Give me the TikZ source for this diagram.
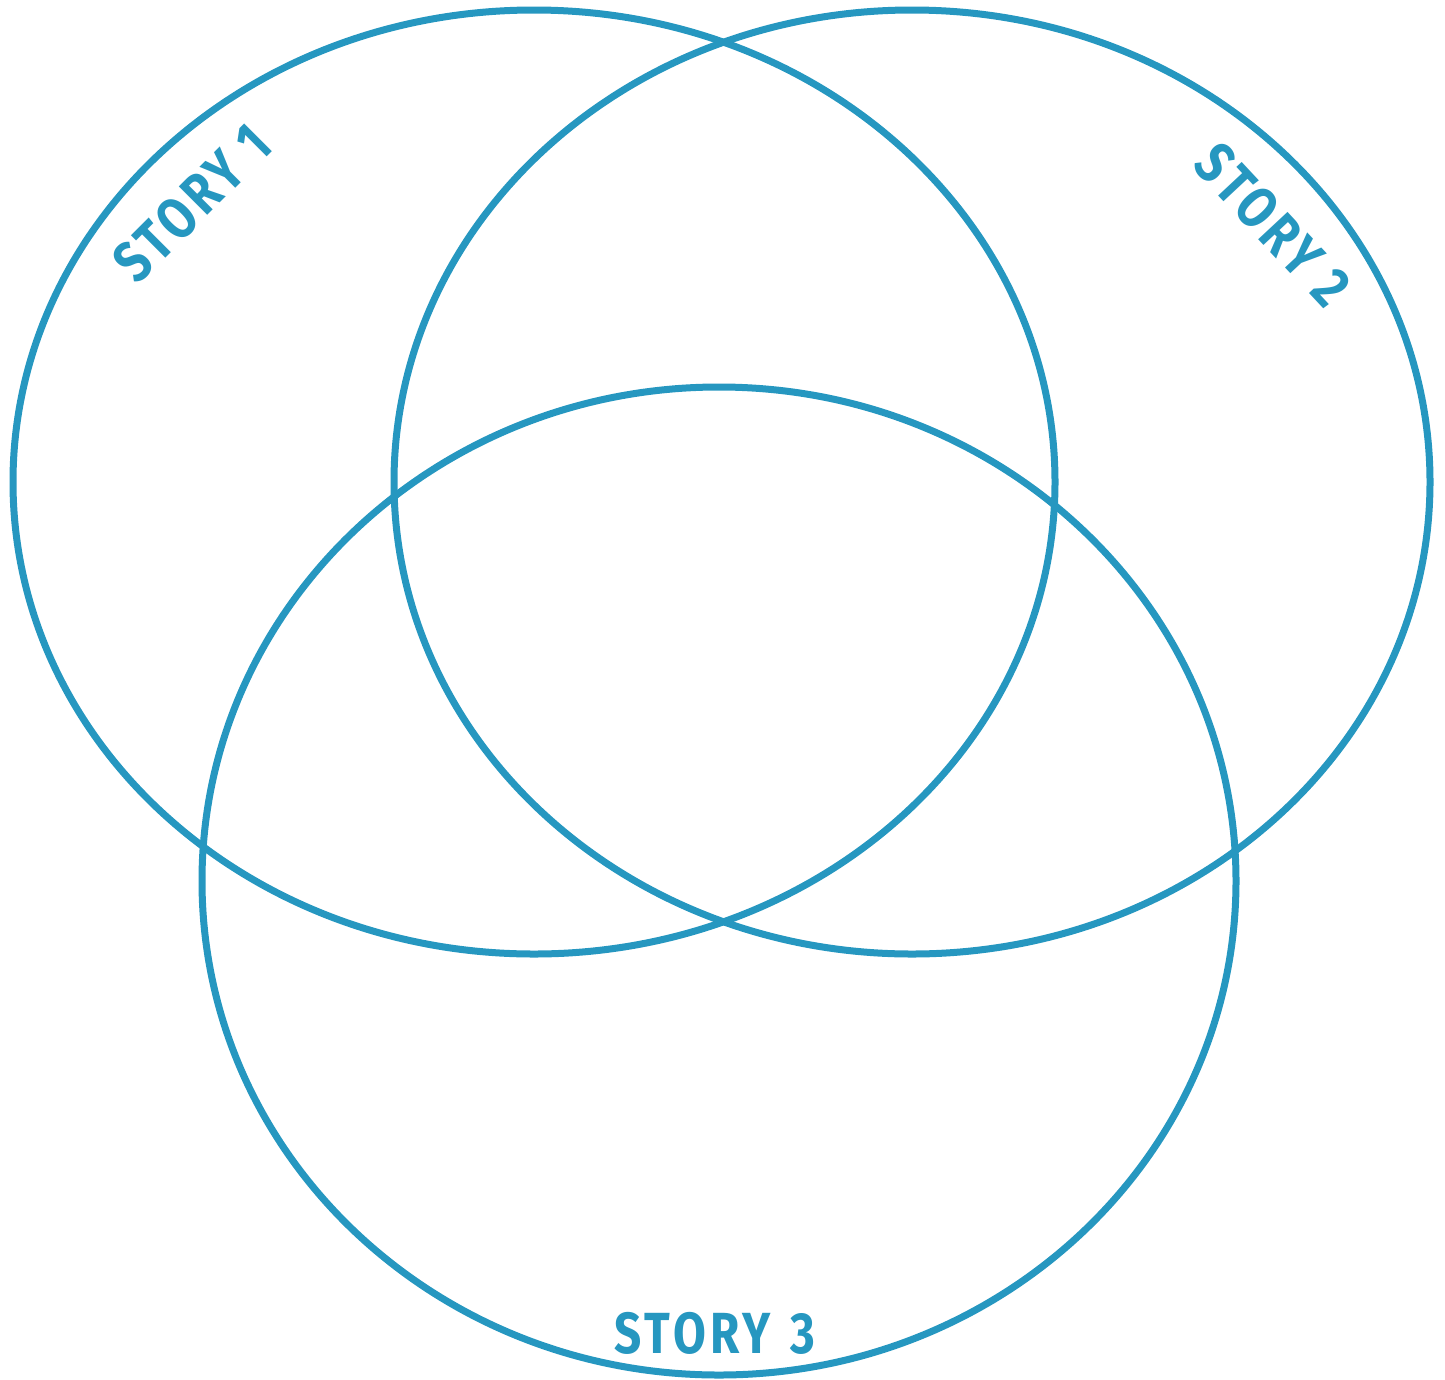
\documentclass[tikz,border=0pt]{standalone}
\usepackage{fontspec}
\setmainfont{Fira Sans}[LetterSpace=9]
\definecolor{venn}{HTML}{2697C0}
\begin{document}
\begin{tikzpicture}[x=1pt,y=-1pt,
  ring/.style={draw=venn,line width=7pt},
  lbl/.style={text=venn,font=\fontsize{58}{58}\selectfont\bfseries,inner sep=0pt}]
\useasboundingbox (0,0) rectangle (1445,1379);
\draw[ring] (534,482) ellipse [x radius=521,y radius=472];
\draw[ring] (912,482) ellipse [x radius=518,y radius=472];
\draw[ring] (719,881) ellipse [x radius=517,y radius=494];
\node[lbl,rotate=45,xscale=0.82] (s1) at (192,203) {STORY 1};
\node[lbl,rotate=-47,xscale=0.82] (s2) at (1273,225) {STORY 2};
\node[lbl,xscale=0.82] (s3) at (715,1333) {STORY\hspace{6pt} 3};
\end{tikzpicture}
\end{document}
